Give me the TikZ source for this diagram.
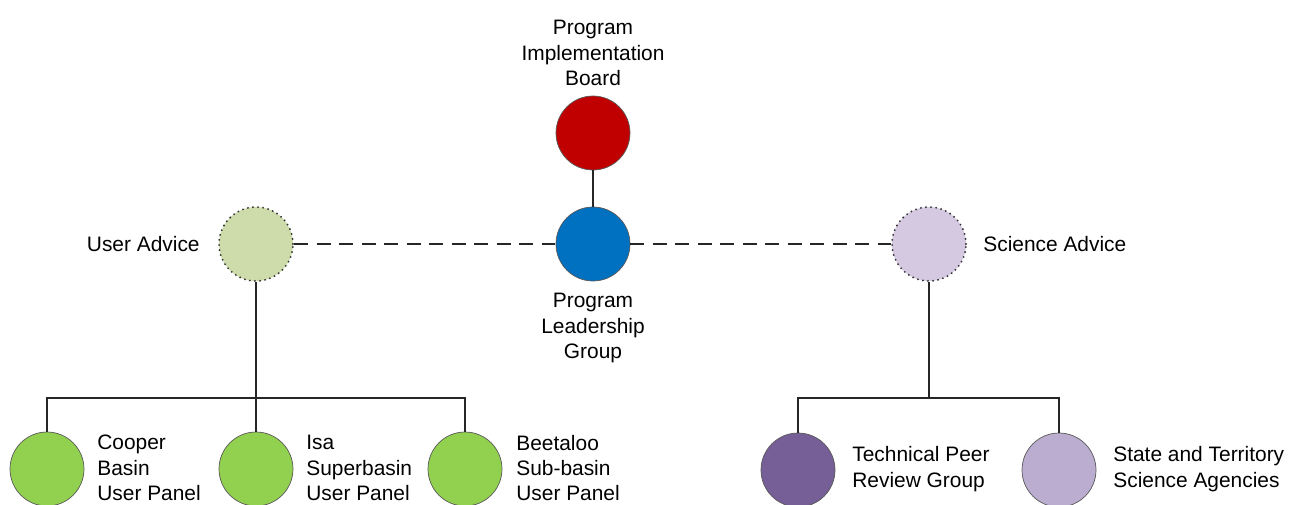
\documentclass[tikz,border=0pt]{standalone}
\usepackage{fontspec}
\setmainfont{Liberation Sans}
\usepackage{xcolor}
\usetikzlibrary{positioning}

\definecolor{boardred}{HTML}{C00000}
\definecolor{leadblue}{HTML}{0070C0}
\definecolor{useradv}{HTML}{CEDCAC}
\definecolor{sciadv}{HTML}{D4C9E0}
\definecolor{panelgreen}{HTML}{92D050}
\definecolor{peerpurple}{HTML}{765E96}
\definecolor{agencylilac}{HTML}{BBADD0}

\begin{document}
\begin{tikzpicture}[x=0.02cm, y=-0.02cm,
      font=\fontsize{11.9}{14.4}\selectfont,
      blob/.style={circle, inner sep=0pt, minimum size=1.48cm, draw=black!65, line width=0.4pt},
      advice/.style={blob, draw=black!80, line width=1.2pt, line cap=round, dash pattern=on 0pt off 2.9pt},
      link/.style={line width=1.1pt, draw=black!85},
      weak/.style={line width=1.1pt, draw=black!85, dash pattern=on 0.28cm off 0.17cm},
      label/.style={align=center, inner sep=0pt},
      side/.style={align=left, anchor=west, inner sep=0pt}]
      \useasboundingbox (0,0) rectangle (1292,504);
      \fill[white] (0,0) rectangle (1292,504);
      % top of the structure
      \node[blob, fill=boardred] (board) at (593,133) {};
      \node[blob, fill=leadblue] (lead) at (593,244) {};
      \node[label] (boardtxt) at (593,53) {Program\\Implementation\\Board};
      \node[label] (leadtxt) at (593,328) {Program\\Leadership\\Group};
      % advice arms
      \node[advice, fill=useradv] (user) at (256,244) {};
      \node[advice, fill=sciadv] (sci) at (929,244) {};
      \node[side, anchor=east] (usertxt) at (200,244) {User Advice};
      \node[side] (scitxt) at (983,244) {Science Advice};
      % user panels
      \node[blob, fill=panelgreen] (cooper) at (47,469) {};
      \node[blob, fill=panelgreen] (isa) at (256,469) {};
      \node[blob, fill=panelgreen] (beet) at (465,469) {};
      \node[side] (coopertxt) at (97,468) {Cooper\\Basin\\User Panel};
      \node[side] (isatxt) at (306,468) {Isa\\Superbasin\\User Panel};
      \node[side] (beettxt) at (516,468) {Beetaloo\\Sub-basin\\User Panel};
      % science groups
      \node[blob, fill=peerpurple] (peer) at (798,470) {};
      \node[blob, fill=agencylilac] (agency) at (1059,470) {};
      \node[side] (peertxt) at (852,469) {Technical Peer\\Review Group};
      \node[side] (agencytxt) at (1113,469) {State and Territory\\Science Agencies};
      \coordinate (ubar) at (256,398);
      \coordinate (sbar) at (929,398);
      \draw[link] (board) -- (lead);
      \draw[weak] (user) -- (lead);
      \draw[weak] (lead) -- (sci);
      \draw[link] (user) -- (ubar);
      \draw[link] (cooper) |- (ubar) -| (beet);
      \draw[link] (ubar) -- (isa);
      \draw[link] (sci) -- (sbar);
      \draw[link] (peer) |- (sbar) -| (agency);
    \end{tikzpicture}
\end{document}
